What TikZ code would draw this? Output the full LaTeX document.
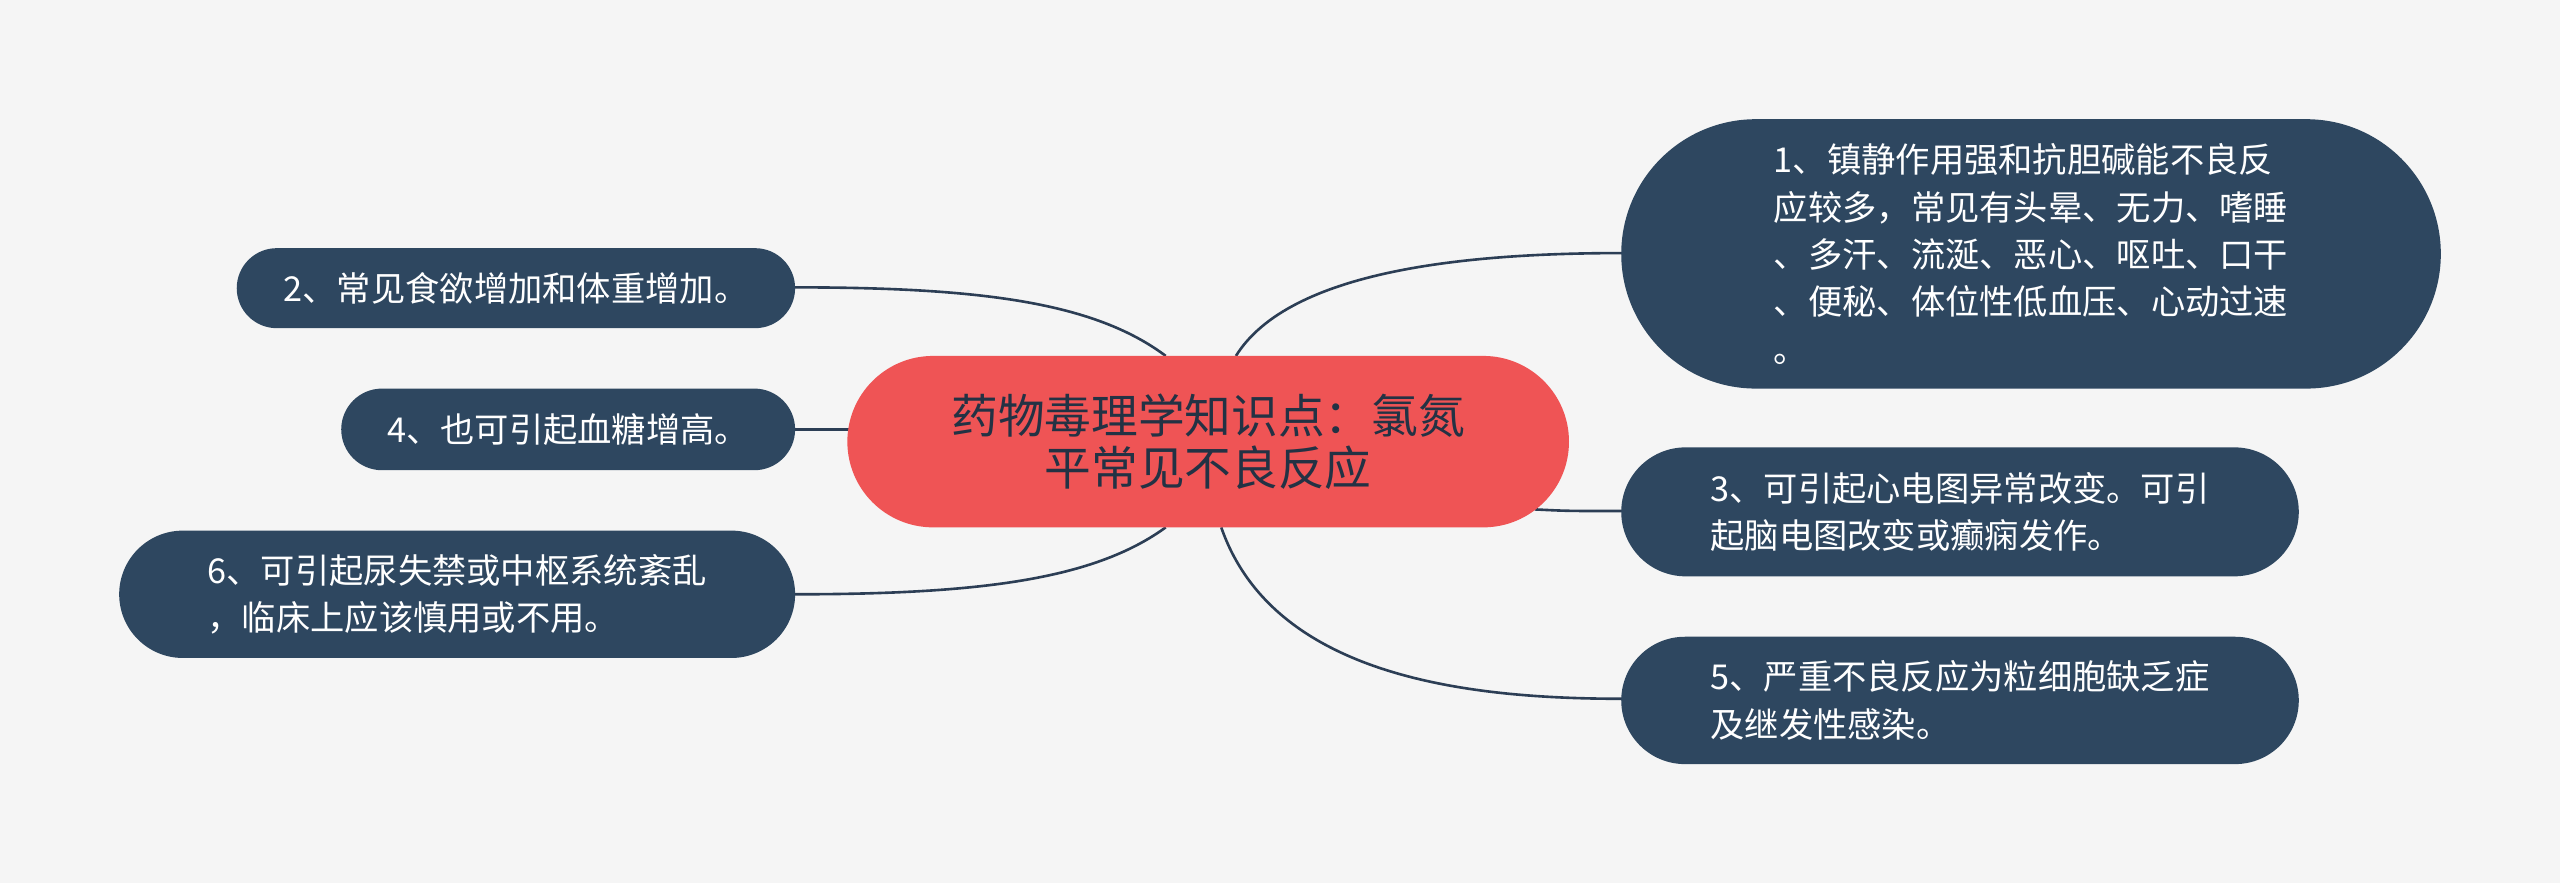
\documentclass[tikz,border=0pt]{standalone}
\usepackage{fontspec}
\setmainfont{Noto Sans CJK SC}
\begin{document}
\begin{tikzpicture}[x=0.5pt,y=-0.5pt,
 leaf/.style={fill=leafc,text=white,font=\fontsize{10.5}{14.5}\selectfont,align=left,inner sep=0pt,rectangle},
 link/.style={draw=linec,line width=0.8pt}]
\definecolor{bg}{HTML}{F5F5F5}
\definecolor{leafc}{HTML}{2E4760}
\definecolor{linec}{HTML}{2C3E55}
\definecolor{cen}{HTML}{EF5455}
\fill[bg] (0,0) rectangle (1568,541);
\useasboundingbox (0,0) rectangle (1568,541);
% connectors first
\coordinate (a1) at (757,218); \coordinate (a2) at (714,218);
\coordinate (a4) at (520,263); \coordinate (a6) at (714,323);
\coordinate (a3) at (940,312); \coordinate (a5) at (748,323);
\coordinate (b1) at (994,155); \coordinate (b2) at (486,176);
\coordinate (b4) at (486,263); \coordinate (b6) at (486,364);
\coordinate (b3) at (994,313); \coordinate (b5) at (994,428);
\draw[link] (a1) .. controls (790,165) and (900,155) .. (b1);
\draw[link] (a2) .. controls (670,185) and (600,176) .. (b2);
\draw[link] (a4) -- (b4);
\draw[link] (a6) .. controls (670,355) and (600,364) .. (b6);
\draw[link] (a3) .. controls (960,313) .. (b3);
\draw[link] (a5) .. controls (780,415) and (900,428) .. (b5);
% nodes
\node[fill=cen,rectangle,rounded corners=26.25pt,minimum width=221pt,minimum height=52.5pt,text=linec!80!black,font=\fontsize{14.3}{16}\selectfont,align=center,inner sep=0pt] (c) at (740,270.5) {药物毒理学知识点：氯氮\\平常见不良反应};
\node[leaf,rounded corners=41.25pt,minimum width=251pt,minimum height=82.5pt] (n1) at (1244,155.5) {1、镇静作用强和抗胆碱能不良反\\应较多，常见有头晕、无力、嗜睡\\、多汗、流涎、恶心、呕吐、口干\\、便秘、体位性低血压、心动过速\\。};
\node[leaf,rounded corners=12.25pt,minimum width=171pt,minimum height=24.5pt] (n2) at (316,176.5) {2、常见食欲增加和体重增加。};
\node[leaf,rounded corners=12.5pt,minimum width=139pt,minimum height=25pt] (n4) at (348,263) {4、也可引起血糖增高。};
\node[leaf,rounded corners=19.5pt,minimum width=207pt,minimum height=39pt] (n6) at (280,364) {6、可引起尿失禁或中枢系统紊乱\\，临床上应该慎用或不用。};
\node[leaf,rounded corners=19.75pt,minimum width=207.5pt,minimum height=39.5pt] (n3) at (1200.5,313.5) {3、可引起心电图异常改变。可引\\起脑电图改变或癫痫发作。};
\node[leaf,rounded corners=19.5pt,minimum width=207.5pt,minimum height=39pt] (n5) at (1200.5,429) {5、严重不良反应为粒细胞缺乏症\\及继发性感染。};
\end{tikzpicture}
\end{document}
